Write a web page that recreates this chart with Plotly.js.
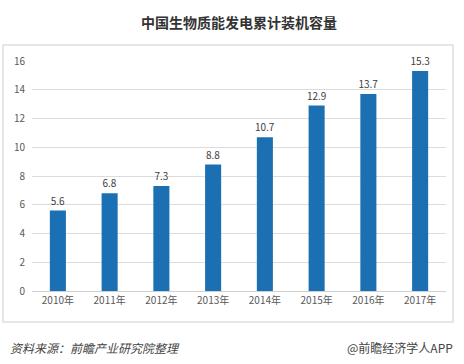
<!DOCTYPE html>
<html>
<head>
<meta charset="utf-8">
<script src="https://cdn.plot.ly/plotly-3.0.1.min.js"></script>
<style>
html,body{margin:0;padding:0;background:#fff;}
#chart{width:464px;height:364px;}
</style>
</head>
<body>
<div id="chart"></div>
<script>
const categories = ["2010年","2011年","2012年","2013年","2014年","2015年","2016年","2017年"];
const capacity = [5.6, 6.8, 7.3, 8.8, 10.7, 12.9, 13.7, 15.3];
const yTicks = [0, 2, 4, 6, 8, 10, 12, 14, 16];
const titleText = "中国生物质能发电累计装机容量";
const sourceText = "资料来源：前瞻产业研究院整理";
const brandText = "@前瞻经济学人APP";

const W = 464, H = 364;
const M = {l: 32, r: 18, t: 61, b: 73};
const pw = W - M.l - M.r, ph = H - M.t - M.b;
const px = x => (x - M.l) / pw;
const py = y => (H - M.b - y) / ph;

const font = "Noto Sans CJK SC, Noto Sans, sans-serif";

const trace = {
  type: "bar",
  x: categories,
  y: capacity,
  text: capacity.map(v => v.toFixed(1)),
  textposition: "outside",
  constraintext: "none",
  textfont: {size: 10, color: "#404040", family: font},
  cliponaxis: false,
  marker: {color: "#1b6fb3"},
  width: 0.31,
  hoverinfo: "none"
};

const layout = {
  width: W, height: H,
  margin: M,
  paper_bgcolor: "#fff",
  plot_bgcolor: "#fff",
  showlegend: false,
  font: {family: font},
  title: {text: "<b>" + titleText + "</b>", x: 0.5, xref: "paper", y: 1 - 23/H, yanchor: "middle",
          font: {size: 14, color: "#333", family: font}},
  xaxis: {
    type: "category",
    range: [-0.5, 7.5],
    showgrid: false,
    showline: true, linecolor: "#d0d0d0", linewidth: 1,
    ticks: "", tickfont: {size: 10, color: "#595959", family: font},
    fixedrange: true
  },
  yaxis: {
    range: [0, 16],
    tickvals: yTicks,
    showgrid: true, gridcolor: "#dcdcdc", gridwidth: 1,
    zeroline: false, showline: false,
    ticks: "", ticklabelstandoff: 6,
    tickfont: {size: 10, color: "#595959", family: font},
    fixedrange: true
  },
  bargap: 0.69,
  shapes: [{
    type: "rect", xref: "paper", yref: "paper",
    x0: px(3), x1: px(453), y0: py(322), y1: py(45),
    line: {color: "#dedede", width: 1.5}, fillcolor: "rgba(0,0,0,0)", layer: "below"
  }],
  annotations: [
    {text: "<i>" + sourceText + "</i>", xref: "paper", yref: "paper", x: px(8), y: py(347),
     xanchor: "left", yanchor: "middle", showarrow: false,
     font: {size: 12, color: "#444", family: font}},
    {text: brandText, xref: "paper", yref: "paper", x: px(455), y: py(347),
     xanchor: "right", yanchor: "middle", showarrow: false,
     font: {size: 12, color: "#444", family: font}}
  ]
};

Plotly.newPlot("chart", [trace], layout, {displayModeBar: false, staticPlot: true});
</script>
</body>
</html>
